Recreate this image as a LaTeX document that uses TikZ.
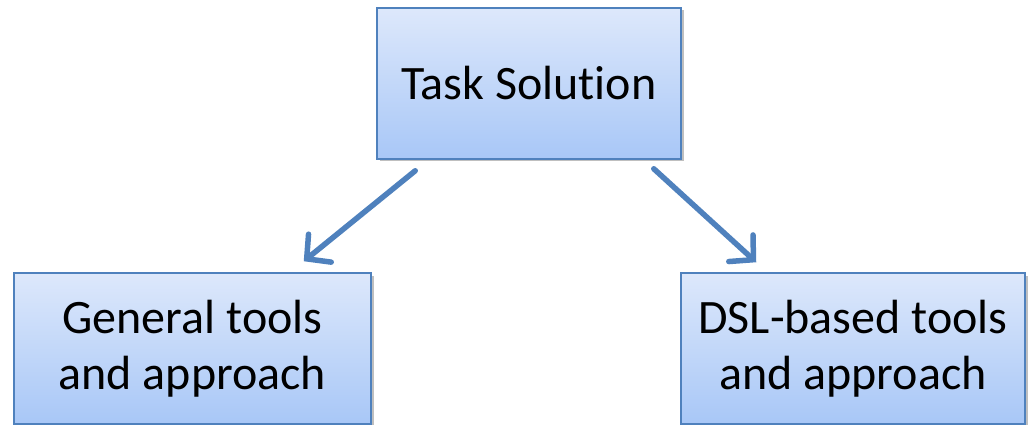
\documentclass[tikz,border=0pt]{standalone}
\usepackage{fontspec}
\setmainfont[Ligatures=NoCommon]{Carlito}
\usetikzlibrary{arrows.meta,shadows,calc}

\definecolor{boxedge}{HTML}{4F81BD}
\definecolor{boxtop}{HTML}{DDE8FB}
\definecolor{boxbottom}{HTML}{A8C7F7}
\definecolor{arrowblue}{HTML}{4F81BD}

\tikzset{
  box/.style={draw=boxedge, line width=1.5pt,
    top color=boxtop, bottom color=boxbottom,
    drop shadow={shadow xshift=2.5pt, shadow yshift=-2.5pt, opacity=0.25, fill=black},
    align=center, inner sep=0pt,
    font=\fontsize{48}{56}\selectfont},
  link/.style={draw=arrowblue, line width=5.5pt, line cap=round,
    -{Straight Barb[length=17pt, width=36pt, line cap=round]}},
}

\begin{document}
\begin{tikzpicture}[x=1pt, y=1pt]
  \useasboundingbox (0,0) rectangle (1028,-425);

  % three boxes
  \node[box, minimum width=304pt, minimum height=151pt] (task) at (529,-83.5) {Task Solution};
  \node[box, minimum width=357pt, minimum height=151pt] (general) at (192.5,-348.5) {General tools\\and approach};
  \node[box, minimum width=344pt, minimum height=151pt] (dsl) at (853,-348.5) {DSL-based tools\\and approach};

  % arrow end points, a little away from the boxes
  \coordinate (s1) at ($(task.south west)+(39,-11)$);
  \coordinate (e1) at ($(general.north east)+(-68,11)$);
  \coordinate (s2) at ($(task.south east)+(-28,-9)$);
  \coordinate (e2) at ($(dsl.north west)+(76,10)$);

  \draw[link] (s1) -- (e1);
  \draw[link] (s2) -- (e2);
\end{tikzpicture}
\end{document}
